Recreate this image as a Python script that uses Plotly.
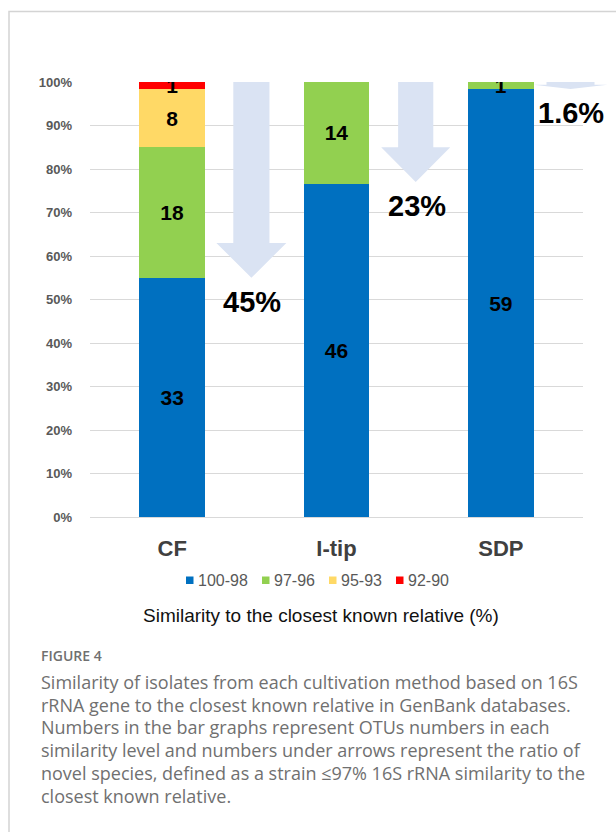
import plotly.graph_objects as go

# Cultivation methods and OTU counts per 16S similarity band
categories = ["CF", "I-tip", "SDP"]
band_labels = ["100-98", "97-96", "95-93", "92-90"]
otus_100_98 = [33, 46, 59]
otus_97_96 = [18, 14, 1]
otus_95_93 = [8, 0, 0]
otus_92_90 = [1, 0, 0]
novel_ratio = [45, 23, 1.6]          # % of novel species (<=97% similarity)
novel_labels = ["45%", "23%", "1.6%"]

caption_title = "FIGURE 4"
caption_lines = [
    "Similarity of isolates from each cultivation method based on 16S",
    "rRNA gene to the closest known relative in GenBank databases.",
    "Numbers in the bar graphs represent OTUs numbers in each",
    "similarity level and numbers under arrows represent the ratio of",
    "novel species, defined as a strain \u226497% 16S rRNA similarity to the",
    "closest known relative.",
]

series = [otus_100_98, otus_97_96, otus_95_93, otus_92_90]
colors = ["#0070C0", "#92D050", "#FFD966", "#FF0000"]

W, H = 616, 832
L, R, T, B = 90, 33, 82, 315
PW, PH = W - L - R, H - T - B
X_RANGE = (-0.5, 2.5)


def px_x(px):
    return (px - L) / PW


def px_y(py):
    return (H - B - py) / PH


def cat_to_paper(x):
    return (x - X_RANGE[0]) / (X_RANGE[1] - X_RANGE[0])


ARIAL = "Arial, Liberation Sans, sans-serif"

fig = go.Figure()
for name, vals, col in zip(band_labels, series, colors):
    fig.add_trace(go.Bar(
        x=categories, y=vals, name=name, marker=dict(color=col, line=dict(width=0)),
        text=[str(v) if v else "" for v in vals],
        textposition="inside", insidetextanchor="middle", textangle=0,
        constraintext="none",
        textfont=dict(family=ARIAL, size=21, color="black", weight="bold"),
        showlegend=False, hoverinfo="skip",
    ))

shapes = []
annotations = []

# Downward arrows: length equals the share of novel species
arrow_offset = [0.482, 0.482, 0.424]
shaft_half = [0.11, 0.107, 0.146]
head_half = [0.213, 0.21, 0.225]
for i, (pct, lab) in enumerate(zip(novel_ratio, novel_labels)):
    cx = i + arrow_offset[i]
    tip = 100 - pct
    head_len = min(8.0, 0.6 * pct)
    neck = tip + head_len
    xs = lambda d: cat_to_paper(cx + d)
    path = (f"M{xs(-shaft_half[i])},100 L{xs(shaft_half[i])},100 "
            f"L{xs(shaft_half[i])},{neck} L{xs(head_half[i])},{neck} "
            f"L{xs(0)},{tip} L{xs(-head_half[i])},{neck} "
            f"L{xs(-shaft_half[i])},{neck} Z")
    shapes.append(dict(type="path", path=path, xref="paper", yref="y",
                       fillcolor="#DAE3F3", line=dict(width=0), layer="above"))
    annotations.append(dict(x=xs(0.005), y=tip, xref="paper", yref="y",
                            text=lab, showarrow=False, yshift=-24,
                            xanchor="center", yanchor="middle",
                            font=dict(family=ARIAL, size=29, color="black",
                                      weight="bold")))

# Legend entries
legend_marker_px = [186, 262, 329, 396]
for lab, col, mx in zip(band_labels, colors, legend_marker_px):
    shapes.append(dict(type="rect", xref="paper", yref="paper",
                       x0=px_x(mx), x1=px_x(mx + 7.5),
                       y0=px_y(584), y1=px_y(576.5),
                       fillcolor=col, line=dict(width=0)))
    annotations.append(dict(x=px_x(mx + 10), y=px_y(580), xref="paper",
                            yref="paper", text=lab, showarrow=False,
                            xanchor="left", yanchor="middle",
                            font=dict(family=ARIAL, size=16, color="#595959")))

# Axis title under the legend
annotations.append(dict(x=px_x(321), y=px_y(615), xref="paper", yref="paper",
                        text="Similarity to the closest known relative (%)",
                        showarrow=False, xanchor="center", yanchor="middle",
                        font=dict(family=ARIAL, size=19, color="#111111")))

# Caption block
CAP_X = 39
annotations.append(dict(x=px_x(CAP_X), y=px_y(655), xref="paper", yref="paper",
                        text=caption_title, showarrow=False, xanchor="left",
                        yanchor="middle",
                        font=dict(family="Open Sans", size=14, color="#707070",
                                  weight=600)))
for k, line in enumerate(caption_lines):
    annotations.append(dict(x=px_x(CAP_X), y=px_y(682 + 22.7 * k), xref="paper",
                            yref="paper", text=line, showarrow=False,
                            xanchor="left", yanchor="middle",
                            font=dict(family="Open Sans", size=18,
                                      color="#707070")))

# Frame around the figure panel
shapes.append(dict(type="rect", xref="paper", yref="paper",
                   x0=px_x(9), x1=px_x(W + 20), y0=px_y(H + 20), y1=px_y(11.5),
                   line=dict(color="#d4d4d4", width=1.5), fillcolor="rgba(0,0,0,0)",
                   layer="below"))

fig.update_layout(
    width=W, height=H, barmode="stack", barnorm="percent", bargap=0.6,
    margin=dict(l=L, r=R, t=T, b=B, autoexpand=False),
    paper_bgcolor="white", plot_bgcolor="white",
    shapes=shapes, annotations=annotations, showlegend=False,
    xaxis=dict(range=list(X_RANGE), showgrid=False, zeroline=False,
               showline=False, ticks="outside", ticklen=12,
               tickcolor="rgba(0,0,0,0)",
               tickfont=dict(family=ARIAL, size=22, color="#404040",
                             weight="bold")),
    yaxis=dict(range=[0, 100], dtick=10, ticksuffix="%", showgrid=True,
               gridcolor="#d9d9d9", gridwidth=1.2, zeroline=True,
               zerolinecolor="#d9d9d9", zerolinewidth=1.2, showline=False,
               ticks="", ticklabelstandoff=17,
               tickfont=dict(family=ARIAL, size=13, color="#595959",
                             weight="bold")),
)

fig.write_html("out.html")
